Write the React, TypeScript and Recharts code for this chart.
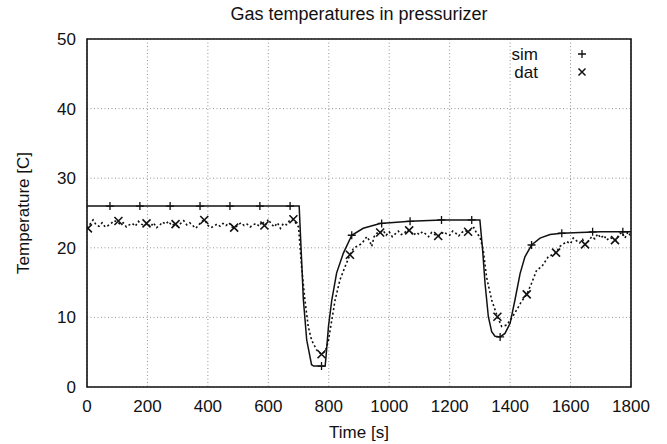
import React from 'react';
import { ComposedChart, Line, XAxis, YAxis, CartesianGrid, ReferenceArea } from 'recharts';

// ---- data ----
const chartTitle = 'Gas temperatures in pressurizer';
const xTicks = [0, 200, 400, 600, 800, 1000, 1200, 1400, 1600, 1800];
const yTicks = [0, 10, 20, 30, 40, 50];
const seriesNames = ['sim', 'dat'];

const simT = [0, 700, 702, 716, 727, 743, 750, 788, 791, 799, 810, 826, 848, 876, 914, 970, 1069, 1173, 1300, 1309, 1317, 1328, 1339, 1350, 1367, 1383, 1400, 1416, 1433, 1449, 1471, 1499, 1532, 1571, 1631, 1700, 1800];
const simV = [26, 26, 26, 12.5, 6.75, 3.2, 3.0, 3.0, 4.4, 8.7, 12.5, 16.4, 19.2, 21.8, 22.8, 23.5, 23.8, 24.0, 24.0, 19.7, 14.9, 10.1, 7.95, 7.3, 7.2, 7.7, 9.15, 12.5, 16.3, 18.7, 20.4, 21.4, 21.9, 22.1, 22.2, 22.3, 22.3];

const simMarkT = [76, 175, 275, 374, 473, 572, 672, 776, 876, 975, 1069, 1173, 1273, 1367, 1471, 1571, 1673, 1773];
const simMarkV = [26, 26, 26, 26, 26, 26, 26, 3.0, 21.8, 23.5, 23.8, 24.0, 24.0, 7.2, 20.4, 22.1, 22.3, 22.3];

const datT = [0, 10, 20, 30, 40, 50, 60, 70, 80, 90, 100, 110, 120, 130, 140, 150, 160, 170, 180, 190, 200, 210, 220, 230, 240, 250, 260, 270, 280, 290, 300, 310, 320, 330, 340, 350, 360, 370, 380, 390, 400, 410, 420, 430, 440, 450, 460, 470, 480, 490, 500, 510, 520, 530, 540, 550, 560, 570, 580, 590, 600, 610, 620, 630, 640, 650, 660, 670, 680, 690, 700,
  710, 721, 732, 743, 760, 776, 788, 799, 810, 821, 837, 854, 870, 880, 892, 909, 926, 935, 942, 950, 959, 970, 980, 990, 1000, 1010, 1020, 1030, 1040, 1050, 1060, 1070, 1080, 1090, 1100, 1110, 1120, 1130, 1140, 1150, 1160, 1170, 1180, 1190, 1200, 1210, 1220, 1230, 1240, 1250, 1260, 1270, 1280, 1289, 1300,
  1311, 1322, 1339, 1358, 1372, 1389, 1405, 1422, 1438, 1455, 1471, 1488, 1505, 1526, 1552, 1565, 1587, 1600, 1609, 1620, 1630, 1640, 1648, 1660, 1670, 1680, 1690, 1700, 1710, 1720, 1730, 1740, 1750, 1760, 1770, 1780, 1790, 1800];
const datV = [22.8, 23.4, 24.0, 23.3, 23.1, 23.6, 23.0, 23.2, 23.5, 23.9, 23.7, 23.4, 23.6, 23.0, 23.3, 23.5, 23.1, 23.8, 23.4, 23.2, 23.5, 23.0, 23.6, 22.9, 23.2, 23.7, 23.4, 23.8, 23.2, 23.4, 23.1, 23.5, 23.9, 23.3, 23.6, 23.2, 22.8, 23.3, 23.8, 24.0, 23.2, 22.9, 23.1, 23.4, 23.1, 23.5, 23.2, 23.6, 23.0, 22.9, 23.3, 23.6, 23.2, 23.4, 23.0, 23.3, 23.5, 23.1, 23.8, 23.2, 24.1, 23.4, 23.0, 23.6, 22.8, 23.5, 23.3, 23.9, 24.1, 23.6, 23.0,
  17.3, 12.5, 8.7, 6.75, 5.3, 4.7, 5.1, 6.75, 9.6, 12.5, 15.4, 17.3, 19.0, 19.8, 20.2, 20.6, 21.6, 21.0, 20.2, 21.6, 22.1, 22.2, 22.5, 21.8, 22.3, 21.6, 22.0, 22.4, 21.9, 22.1, 22.6, 22.4, 21.8, 22.2, 21.9, 22.3, 22.0, 21.6, 22.2, 21.9, 21.7, 21.8, 22.3, 22.0, 21.8, 22.4, 22.1, 21.7, 22.2, 22.5, 22.3, 22.6, 22.9, 22.1, 21.6,
  19.7, 15.8, 12.5, 10.1, 8.7, 8.9, 9.9, 11.1, 12.3, 13.3, 14.9, 16.8, 17.3, 18.7, 19.3, 20.2, 20.9, 20.6, 21.4, 21.0, 20.7, 21.2, 20.5, 21.0, 21.6, 21.3, 22.0, 21.4, 21.8, 21.1, 21.5, 21.3, 21.1, 21.9, 22.2, 21.4, 22.3, 21.6];

const datMarkT = [3, 104, 197, 293, 388, 487, 587, 683, 776, 870, 970, 1066, 1162, 1261, 1358, 1455, 1552, 1648, 1747];
const datMarkV = [22.8, 23.85, 23.5, 23.4, 24.0, 22.9, 23.2, 24.1, 4.7, 19.0, 22.2, 22.5, 21.7, 22.3, 10.1, 13.3, 19.3, 20.5, 21.1];

const simData = simT.map((t, i) => ({ t, v: simV[i] }));
const simMarks = simMarkT.map((t, i) => ({ t, v: simMarkV[i] }));
const datData = datT.map((t, i) => ({ t, v: datV[i] }));
const datMarks = datMarkT.map((t, i) => ({ t, v: datMarkV[i] }));

const X_MIN = 0, X_MAX = 1800, Y_MIN = 0, Y_MAX = 50;

const FONT = '"Liberation Sans", Arial, Helvetica, sans-serif';
const W = 667;
const H = 444;

const PlusDot = (p: any) => {
  if (p.cx == null || p.cy == null) return <g key={`pe${p.index}`} />;
  const s = 4;
  return (
    <path key={`p${p.index}`} d={`M${p.cx - s},${p.cy}H${p.cx + s}M${p.cx},${p.cy - s}V${p.cy + s}`}
      stroke="#111" strokeWidth={1.3} fill="none" />
  );
};

const CrossDot = (p: any) => {
  if (p.cx == null || p.cy == null) return <g key={`xe${p.index}`} />;
  const s = 4;
  return (
    <path key={`x${p.index}`} d={`M${p.cx - s},${p.cy - s}L${p.cx + s},${p.cy + s}M${p.cx - s},${p.cy + s}L${p.cx + s},${p.cy - s}`}
      stroke="#111" strokeWidth={1.6} fill="none" />
  );
};

const tickStyle = { fontSize: 17, fill: '#111', fontFamily: FONT };
const inTick = { stroke: '#111', strokeWidth: 1.4 };

export default function App() {
  return (
    <div style={{ position: 'absolute', left: 0, top: 0, width: W, height: H, background: '#fff', fontFamily: FONT }}>
      <div style={{ position: 'absolute', left: 87, width: 544, top: 3, textAlign: 'center', fontSize: 18, lineHeight: '22px', color: '#111', fontFamily: FONT }}>
        {chartTitle}
      </div>
      <ComposedChart width={W} height={H} margin={{ top: 39, right: 36, bottom: 27, left: 27 }}>
        <CartesianGrid xAxisId="b" yAxisId="l" stroke="#888" strokeDasharray="1 2.5" strokeWidth={0.9} horizontal vertical />
        <XAxis xAxisId="b" type="number" dataKey="t" domain={[X_MIN, X_MAX]} ticks={xTicks} height={30}
          allowDataOverflow axisLine={false} tickLine={false}
          tickSize={0} tickMargin={13} tick={tickStyle}
          label={{ value: 'Time [s]', position: 'bottom', offset: 9, style: { fontSize: 17, fill: '#111', fontFamily: FONT } }} />
        {/* inward tick marks: mirrored axes without labels */}
        <XAxis xAxisId="bm" orientation="bottom" mirror type="number" dataKey="t" domain={[X_MIN, X_MAX]} ticks={xTicks}
          allowDataOverflow axisLine={false} tickLine={inTick} tickSize={7} tick={false} />
        <XAxis xAxisId="tm" orientation="top" mirror type="number" dataKey="t" domain={[X_MIN, X_MAX]} ticks={xTicks}
          allowDataOverflow axisLine={false} tickLine={inTick} tickSize={7} tick={false} />
        <YAxis yAxisId="l" type="number" domain={[Y_MIN, Y_MAX]} ticks={yTicks} width={60}
          allowDataOverflow axisLine={false} tickLine={false}
          tickSize={0} tickMargin={11} tick={tickStyle}
          label={{
            content: (props: any) => {
              const vb = props.viewBox || { x: 27, y: 39, width: 60, height: 348 };
              const cx = vb.x - 4;
              const cy = vb.y + vb.height / 2;
              return (
                <text x={cx} y={cy} transform={`rotate(-90 ${cx} ${cy})`} textAnchor="middle" dominantBaseline="central"
                  style={{ fontSize: 17, fill: '#111', fontFamily: FONT }}>Temperature [C]</text>
              );
            },
          }} />
        <YAxis yAxisId="lm" orientation="left" mirror type="number" domain={[Y_MIN, Y_MAX]} ticks={yTicks}
          allowDataOverflow axisLine={false} tickLine={inTick} tickSize={7} tick={false} />
        <YAxis yAxisId="rm" orientation="right" mirror type="number" domain={[Y_MIN, Y_MAX]} ticks={yTicks}
          allowDataOverflow axisLine={false} tickLine={inTick} tickSize={7} tick={false} />

        <ReferenceArea xAxisId="b" yAxisId="l" x1={X_MIN} x2={X_MAX} y1={Y_MIN} y2={Y_MAX}
          fill="none" fillOpacity={0} stroke="#111" strokeWidth={1.6} ifOverflow="visible" />

        <Line xAxisId="b" yAxisId="l" data={datData} dataKey="v" name={seriesNames[1]} type="linear"
          stroke="#111" strokeWidth={1.6} strokeDasharray="2 2.5" dot={false} isAnimationActive={false} />
        <Line xAxisId="b" yAxisId="l" data={simData} dataKey="v" name={seriesNames[0]} type="linear"
          stroke="#111" strokeWidth={1.5} dot={false} isAnimationActive={false} />
        <Line xAxisId="b" yAxisId="l" data={simMarks} dataKey="v" name="simMarks" stroke="none"
          dot={PlusDot} activeDot={false} isAnimationActive={false} legendType="none" />
        <Line xAxisId="b" yAxisId="l" data={datMarks} dataKey="v" name="datMarks" stroke="none"
          dot={CrossDot} activeDot={false} isAnimationActive={false} legendType="none" />
      </ComposedChart>

      <svg style={{ position: 'absolute', left: 490, top: 42 }} width={110} height={44}>
        <text x={48} y={12} textAnchor="end" dominantBaseline="central" style={{ fontSize: 17, fill: '#111', fontFamily: FONT }}>{seriesNames[0]}</text>
        <path d="M88,12H96M92,8V16" stroke="#111" strokeWidth={1.3} fill="none" />
        <text x={48} y={30} textAnchor="end" dominantBaseline="central" style={{ fontSize: 17, fill: '#111', fontFamily: FONT }}>{seriesNames[1]}</text>
        <path d="M88.5,26.5L95.5,33.5M88.5,33.5L95.5,26.5" stroke="#111" strokeWidth={1.5} fill="none" />
      </svg>
    </div>
  );
}
